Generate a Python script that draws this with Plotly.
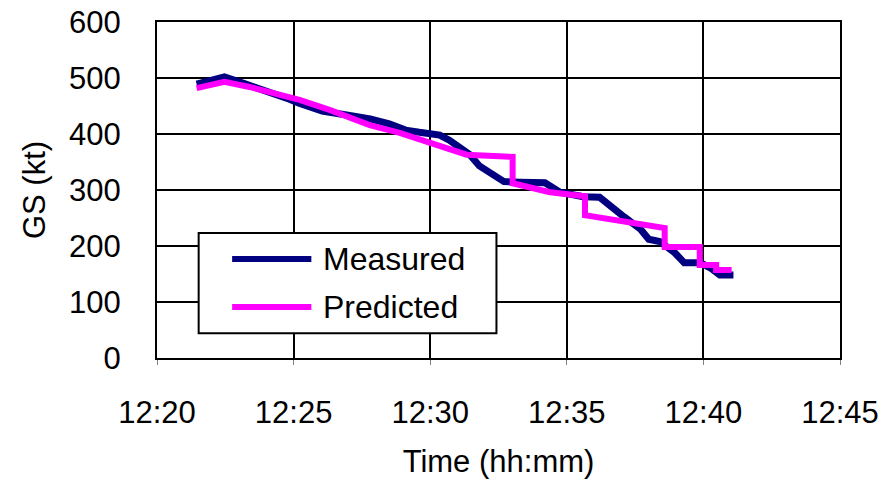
import plotly.graph_objects as go

# Ground speed over time: measured track vs. predicted profile
DAY = "2000-01-01 "

measured_time = [
    "12:21:27", "12:22:00", "12:22:28", "12:23:12", "12:24:06", "12:24:51",
    "12:25:12", "12:26:03", "12:27:03", "12:27:48", "12:28:30", "12:29:06",
    "12:29:36", "12:30:06", "12:30:21", "12:30:42", "12:31:27", "12:31:48",
    "12:32:12", "12:32:42", "12:33:18", "12:34:12", "12:34:45", "12:35:36",
    "12:36:12", "12:36:36", "12:37:06", "12:37:42", "12:38:00", "12:38:24",
    "12:38:57", "12:39:18", "12:39:54", "12:40:15", "12:40:36", "12:41:06",
]
measured_gs = [
    489, 497, 502, 490, 476, 462,
    455, 441, 433, 427, 418, 407,
    403, 401, 398, 389, 363, 343,
    331, 315, 314, 313, 296, 288,
    287, 270, 252, 230, 212, 208,
    188, 170, 170, 161, 148, 148,
]

predicted_time = [
    "12:21:27", "12:22:28", "12:23:23", "12:24:29", "12:25:13", "12:26:19",
    "12:27:47", "12:28:53", "12:30:05", "12:31:20", "12:33:01", "12:33:01",
    "12:34:23", "12:35:40", "12:35:40", "12:36:56", "12:38:02", "12:38:35",
    "12:38:35", "12:39:52", "12:39:52", "12:40:28", "12:40:28", "12:41:02",
]
predicted_gs = [
    482, 493, 484, 470, 461, 443,
    416, 402, 383, 363, 359, 312,
    296, 289, 255, 246, 237, 232,
    198, 198, 166, 166, 157, 157,
]

x_ticks = ["12:20", "12:25", "12:30", "12:35", "12:40", "12:45"]
series_names = ["Measured", "Predicted"]
series_colors = ["#000080", "#FF00FF"]

FONT = "Liberation Sans, Arial, sans-serif"

fig = go.Figure()
fig.add_trace(go.Scatter(
    x=[DAY + t for t in measured_time], y=measured_gs, mode="lines",
    name=series_names[0], line=dict(color=series_colors[0], width=7),
    showlegend=False,
))
fig.add_trace(go.Scatter(
    x=[DAY + t for t in predicted_time], y=predicted_gs, mode="lines",
    name=series_names[1], line=dict(color=series_colors[1], width=6),
    showlegend=False,
))

# Boxed legend with long line samples
lx0, lx1, ly0, ly1 = 0.061, 0.497, 0.074, 0.372
shapes = [dict(type="rect", xref="paper", yref="paper", x0=lx0, x1=lx1, y0=ly0, y1=ly1,
               fillcolor="white", line=dict(color="black", width=2), layer="above")]
annotations = []
row_y = [0.295, 0.152]
for name, color, yy in zip(series_names, series_colors, row_y):
    shapes.append(dict(type="line", xref="paper", yref="paper", x0=0.11, x1=0.226,
                       y0=yy, y1=yy, line=dict(color=color, width=6), layer="above"))
    annotations.append(dict(xref="paper", yref="paper", x=0.24, y=yy, text=name,
                            showarrow=False, xanchor="left", yanchor="middle",
                            font=dict(family=FONT, size=32, color="black")))

fig.update_layout(
    width=889, height=479,
    margin=dict(l=157, r=49, t=22, b=121),
    paper_bgcolor="white", plot_bgcolor="white",
    font=dict(family=FONT, size=31, color="black"),
    shapes=shapes, annotations=annotations,
    showlegend=False,
)
fig.update_xaxes(
    type="date", automargin=False,
    range=[DAY + "12:20:00", DAY + "12:45:00"],
    tickvals=[DAY + t + ":00" for t in x_ticks], ticktext=x_ticks,
    showgrid=True, gridcolor="black", gridwidth=2,
    showline=True, mirror=True, linecolor="black", linewidth=2,
    ticks="outside", ticklen=5, tickcolor="gray",
    ticklabelstandoff=21,
    tickfont=dict(size=31),
    title=dict(text="Time (hh:mm)", font=dict(size=31), standoff=21),
)
fig.update_yaxes(
    automargin=False,
    range=[0, 600], dtick=100,
    showgrid=True, gridcolor="black", gridwidth=2, zeroline=False,
    showline=True, mirror=True, linecolor="black", linewidth=2,
    ticks="", ticklabelstandoff=28,
    tickfont=dict(size=31),
    title=dict(text="GS (kt)", font=dict(size=31), standoff=14),
)

fig.write_html("out.html")
